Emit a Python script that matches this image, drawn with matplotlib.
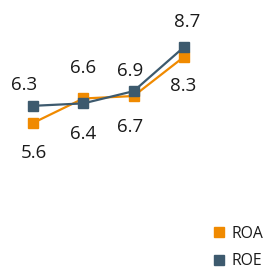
import matplotlib
matplotlib.use("Agg")
import matplotlib.pyplot as plt
from matplotlib.lines import Line2D

categories = ["1", "2", "3", "4"]
roa = [5.6, 6.6, 6.7, 8.3]
roe = [6.3, 6.4, 6.9, 8.7]
series_names = ["ROA", "ROE"]
colors = ["#F08A00", "#3D5A6E"]

# label offsets in pixels (dx, dy upward)
roa_off = [(1, -30), (0, 30), (-4, -31), (-1, -29)]
roe_off = [(-9, 21), (0, -31), (-4, 20), (3, 25)]

plt.rcParams['font.family'] = ['Open Sans', 'DejaVu Sans']
fig = plt.figure(figsize=(2.70, 2.69), dpi=100)
ax = fig.add_axes([0, 0, 1, 1])
x = list(range(len(categories)))
for vals, col, offs in [(roa, colors[0], roa_off), (roe, colors[1], roe_off)]:
    ax.plot(x, vals, color=col, lw=1.6, marker='s', ms=7.2, zorder=3)
    for xi, v, (dx, dy) in zip(x, vals, offs):
        ax.annotate(f"{v:.1f}", (xi, v), xytext=(dx, dy), textcoords='offset pixels',
                    ha='center', va='center', fontsize=13.5, color='#1a1a1a')

ax.set_xlim(-0.656, 4.709)
ax.set_ylim(-0.36, 10.62)
ax.axis('off')

handles = [Line2D([], [], color=c, marker='s', ls='none', ms=7) for c in colors]
leg = fig.legend(handles, series_names, loc='lower left', bbox_to_anchor=(0.76, -0.025),
                 frameon=False, fontsize=11.3, handletextpad=0.3, labelspacing=0.75,
                 handlelength=1.0, borderaxespad=0.0)
for t in leg.get_texts():
    t.set_color('#1a1a1a')
fig.savefig("out.png", dpi=100)
